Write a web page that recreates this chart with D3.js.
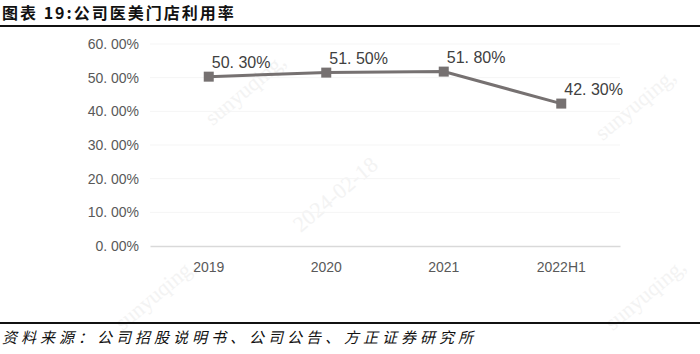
<!DOCTYPE html>
<html>
<head>
<meta charset="utf-8">
<script src="https://cdn.jsdelivr.net/npm/d3@7"></script>
<style>
  body { margin: 0; background: #fff; }
  svg { display: block; }
</style>
</head>
<body>
<div id="container"></div>
<script>
var categories = ["2019", "2020", "2021", "2022H1"];
var rates = [50.3, 51.5, 51.8, 42.3];
var yTicks = [0, 10, 20, 30, 40, 50, 60];

var width = 700, height = 354;
var cjk = "'Noto Sans CJK SC', 'Noto Sans', sans-serif";

var svg = d3.select("#container").append("svg")
  .attr("width", width)
  .attr("height", height);

// watermark, very faint
var marks = [[250, 95, "sunyuqing,"], [340, 200, "2024-02-18"], [160, 300, "sunyuqing,"], [650, 300, "sunyuqing,"], [640, 110, "sunyuqing,"]];
svg.selectAll(".wm").data(marks).enter().append("text")
  .attr("class", "wm")
  .attr("transform", d => "translate(" + d[0] + "," + d[1] + ") rotate(-40)")
  .attr("text-anchor", "middle")
  .attr("font-family", "'Liberation Serif', serif")
  .attr("font-size", 22)
  .attr("fill", "#f3f3f3")
  .text(d => d[2]);

// title + rules
svg.append("text")
  .attr("x", 2).attr("y", 19)
  .attr("font-family", cjk)
  .attr("font-weight", "bold")
  .attr("font-size", 16)
  .attr("letter-spacing", 2)
  .attr("fill", "#111")
  .text("图表 19:公司医美门店利用率");

svg.append("line").attr("x1", 0).attr("x2", width).attr("y1", 26).attr("y2", 26)
  .attr("stroke", "#111").attr("stroke-width", 2);
svg.append("line").attr("x1", 0).attr("x2", width).attr("y1", 323).attr("y2", 323)
  .attr("stroke", "#111").attr("stroke-width", 2);

svg.append("text")
  .attr("x", 2).attr("y", 343)
  .attr("font-family", cjk)
  .attr("font-style", "italic")
  .attr("font-size", 15)
  .attr("letter-spacing", 4)
  .attr("fill", "#111")
  .text("资料来源：公司招股说明书、公司公告、方正证券研究所");

// scales
var x = d3.scaleBand().domain(categories).range([150, 620]);
var y = d3.scaleLinear().domain([0, 60]).range([246, 44]);

// faint gridlines
svg.append("g")
  .selectAll("line").data(yTicks.filter(t => t > 0)).enter().append("line")
  .attr("x1", 150).attr("x2", 620)
  .attr("y1", d => y(d)).attr("y2", d => y(d))
  .attr("stroke", "#f5f5f5");

var fmtTick = d => d3.format(".2f")(d).replace(".", ". ") + "%";

var yAxis = svg.append("g")
  .attr("transform", "translate(139,0)")
  .call(d3.axisLeft(y).tickValues(yTicks).tickFormat(fmtTick).tickSize(0).tickPadding(0));
yAxis.select(".domain").remove();
yAxis.selectAll("text")
  .attr("font-family", "'Liberation Sans', Arial, sans-serif")
  .attr("font-size", 14)
  .attr("fill", "#595959");

var xAxis = svg.append("g")
  .attr("transform", "translate(0,246)")
  .call(d3.axisBottom(x).tickSize(0).tickPadding(16));
xAxis.select(".domain").attr("stroke", "#d9d9d9").attr("stroke-width", 1.5);
xAxis.selectAll("text")
  .attr("font-family", "'Liberation Sans', Arial, sans-serif")
  .attr("font-size", 14)
  .attr("fill", "#595959");

var pts = categories.map((c, i) => ({ c: c, v: rates[i] }));
var cx = d => x(d.c) + x.bandwidth() / 2;

svg.append("path")
  .datum(pts)
  .attr("fill", "none")
  .attr("stroke", "#767171")
  .attr("stroke-width", 3)
  .attr("d", d3.line().x(cx).y(d => y(d.v)));

svg.selectAll(".pt").data(pts).enter().append("rect")
  .attr("class", "pt")
  .attr("x", d => cx(d) - 5)
  .attr("y", d => y(d.v) - 5)
  .attr("width", 10).attr("height", 10)
  .attr("fill", "#767171");

svg.selectAll(".lbl").data(pts).enter().append("text")
  .attr("class", "lbl")
  .attr("x", d => cx(d) + 3)
  .attr("y", d => y(d.v) - 9)
  .attr("font-family", "'Liberation Sans', Arial, sans-serif")
  .attr("font-size", 16)
  .attr("fill", "#404040")
  .text(d => d3.format(".2f")(d.v).replace(".", ". ") + "%");
</script>
</body>
</html>
